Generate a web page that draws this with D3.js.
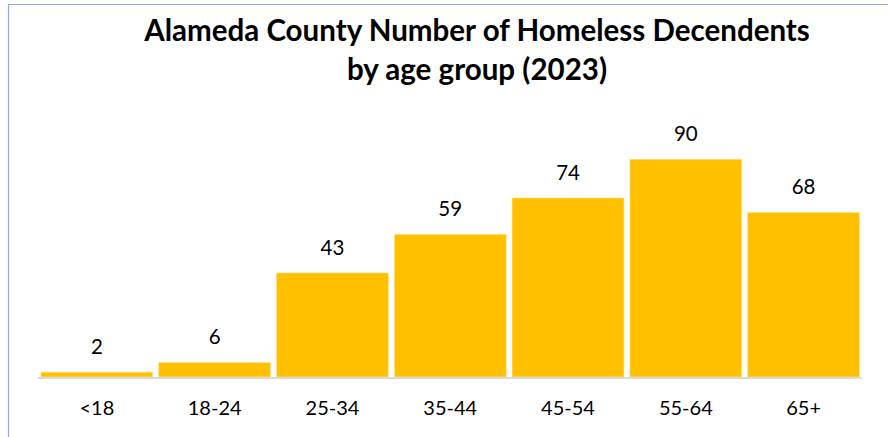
<!DOCTYPE html>
<html>
<head>
<meta charset="utf-8">
<script src="https://cdn.jsdelivr.net/npm/d3@7/dist/d3.min.js"></script>
<style>
  html, body { margin: 0; padding: 0; background: #fff; }
  svg { display: block; }
  text { font-family: Lato, "Open Sans", sans-serif; fill: #000; }
</style>
</head>
<body>
<svg id="chart" width="888" height="437"></svg>
<script>
// Age groups and number of homeless decedents, Alameda County 2023
const ageGroups = ["<18", "18-24", "25-34", "35-44", "45-54", "55-64", "65+"];
const decedents = [2, 6, 43, 59, 74, 90, 68];
const titleLines = ["Alameda County Number of Homeless Decendents", "by age group (2023)"];

const svg = d3.select("#chart");
const W = 888, H = 437;

// chart frame (only its top and left edges fall inside the view)
svg.append("line").attr("x1", 8.5).attr("x2", W).attr("y1", 4.5).attr("y2", 4.5)
  .attr("stroke", "#8eaadb").attr("stroke-width", 1.2);
svg.append("line").attr("x1", 8.5).attr("x2", 8.5).attr("y1", 4.5).attr("y2", H)
  .attr("stroke", "#8eaadb").attr("stroke-width", 1.2);

const baseline = 377;
const x = d3.scaleBand().domain(ageGroups).range([38, 862.5])
  .paddingInner(0.05).paddingOuter(0.025);
const y = d3.scaleLinear().domain([0, 100]).range([baseline, baseline - 242]);

// bars
svg.append("g").selectAll("rect").data(decedents).join("rect")
  .attr("x", (d, i) => x(ageGroups[i]))
  .attr("width", x.bandwidth())
  .attr("y", d => y(d))
  .attr("height", d => y(0) - y(d))
  .attr("fill", "#ffc000")
  .attr("stroke", "#ffe699").attr("stroke-width", 0.6);

// category axis
const axis = svg.append("g").attr("transform", `translate(0,${baseline + 1})`)
  .call(d3.axisBottom(x).tickSize(0).tickPadding(29));
axis.select(".domain").attr("stroke", "#d9d9d9").attr("stroke-width", 2)
  .attr("d", "M38,0H862");
axis.selectAll(".tick text").style("font-family", "Lato, 'Open Sans', sans-serif")
  .style("font-size", "20px").attr("fill", "#000").attr("dy", null)
  .attr("y", 37);

// value labels
svg.append("g").selectAll("text").data(decedents).join("text")
  .attr("x", (d, i) => x(ageGroups[i]) + x.bandwidth() / 2)
  .attr("y", d => y(d) - 18)
  .attr("text-anchor", "middle")
  .style("font-size", "20.5px")
  .text(d => d);

// title, sized so the first line spans its box
const title = svg.append("g").attr("font-weight", 700);
const t1 = title.append("text").attr("x", 477).attr("y", 41)
  .attr("text-anchor", "middle").style("font-size", "27px").text(titleLines[0]);
const fitted = 27 * 666 / t1.node().getComputedTextLength();
t1.style("font-size", fitted + "px");
title.append("text").attr("x", 477).attr("y", 80)
  .attr("text-anchor", "middle").style("font-size", fitted + "px").text(titleLines[1]);
</script>
</body>
</html>
